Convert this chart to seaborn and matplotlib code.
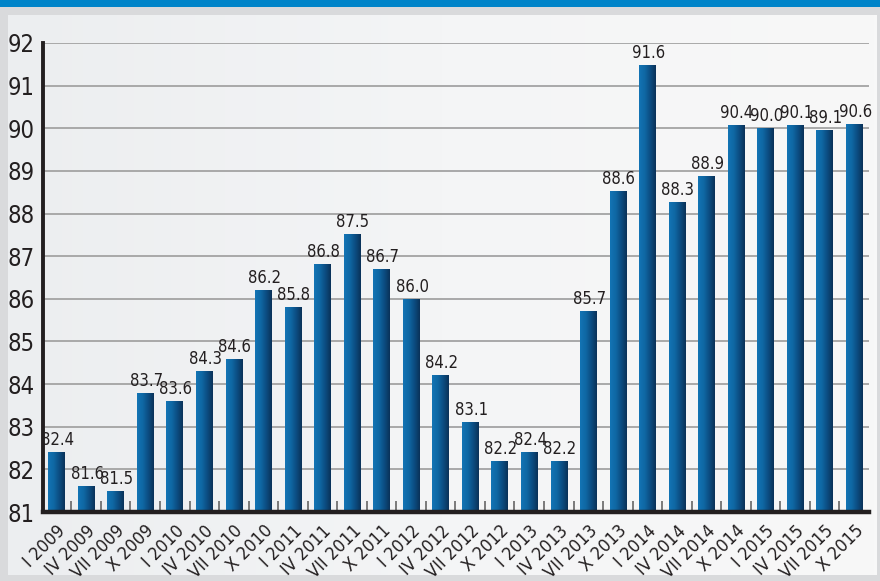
import numpy as np
import pandas as pd
import matplotlib
matplotlib.use("Agg")
import matplotlib.pyplot as plt
import seaborn as sns
from matplotlib.colors import LinearSegmentedColormap
from matplotlib.patches import Rectangle

categories = ["I 2009", "IV 2009", "VII 2009", "X 2009", "I 2010", "IV 2010", "VII 2010",
              "X 2010", "I 2011", "IV 2011", "VII 2011", "X 2011", "I 2012", "IV 2012",
              "VII 2012", "X 2012", "I 2013", "IV 2013", "VII 2013", "X 2013", "I 2014",
              "IV 2014", "VII 2014", "X 2014", "I 2015", "IV 2015", "VII 2015", "X 2015"]
value_labels = ["82.4", "81.6", "81.5", "83.7", "83.6", "84.3", "84.6", "86.2", "85.8",
                "86.8", "87.5", "86.7", "86.0", "84.2", "83.1", "82.2", "82.4", "82.2",
                "85.7", "88.6", "91.6", "88.3", "88.9", "90.4", "90.0", "90.1", "89.1", "90.6"]
bar_heights = [82.41, 81.6, 81.49, 83.79, 83.61, 84.31, 84.58, 86.2, 85.81, 86.81, 87.51,
               86.71, 86.0, 84.21, 83.11, 82.2, 82.41, 82.2, 85.71, 88.54, 91.49, 88.28,
               88.89, 90.07, 90.0, 90.07, 89.95, 90.09]
y_ticks = [81, 82, 83, 84, 85, 86, 87, 88, 89, 90, 91, 92]

df = pd.DataFrame({"period": categories, "value": bar_heights})

sns.set_theme(style="white")
plt.rcParams["font.family"] = ["DejaVu Sans"]
plt.rcParams["font.stretch"] = "condensed"

W, H = 880, 581
fig = plt.figure(figsize=(W / 100, H / 100), dpi=100)
fig.patch.set_facecolor("#d9dadc")

# background panel and top strip
bg = fig.add_axes([0, 0, 1, 1], zorder=-5)
bg.set_xlim(0, W)
bg.set_ylim(H, 0)
bg.axis("off")
bg.add_patch(Rectangle((0, 0), W, 7, color="#0084c9", lw=0))
grad = np.linspace(0, 1, 256).reshape(1, -1)
panel_cmap = LinearSegmentedColormap.from_list("panel", ["#eceef0", "#f4f5f6", "#f8f8f8"])
bg.imshow(grad, cmap=panel_cmap, extent=(8, 877, 575, 15), aspect="auto")
bg.set_xlim(0, W)
bg.set_ylim(H, 0)

ax = fig.add_axes([43 / W, 1 - 512 / H, (869 - 43) / W, (512 - 43) / H])
ax.patch.set_alpha(0)

sns.barplot(data=df, x="period", y="value", ax=ax, width=0.56, color="#0f68a4",
            saturation=1, zorder=3)

bar_cmap = LinearSegmentedColormap.from_list("bar", ["#1374b5", "#0f68a4", "#0c4d82", "#0a3258"])
bgrad = np.linspace(0, 1, 64).reshape(1, -1)
for p, lab in zip(ax.patches, value_labels):
    x0, w, h = p.get_x(), p.get_width(), p.get_height()
    im = ax.imshow(bgrad, cmap=bar_cmap, extent=(x0, x0 + w, 81, h), aspect="auto",
                   zorder=4, interpolation="bilinear")
    im.set_clip_path(p)
    p.set_alpha(0)
    ax.annotate(lab, (x0 + w / 2, h), xytext=(1, 3), textcoords="offset pixels",
                ha="center", va="bottom", fontsize=12, color="#231f20", zorder=6)

ax.set_xlim(-0.46, 27.5)
ax.set_ylim(81, 92)
ax.set_yticks(y_ticks)
ax.set_yticklabels([str(t) for t in y_ticks], fontsize=17, color="#231f20")
for t in y_ticks[1:]:
    ax.axhline(t, color="#a3a3a3", lw=1.3, zorder=1)

ax.set_xlabel("")
ax.set_ylabel("")
ax.set_xticks(range(len(categories)))
ax.set_xticklabels(categories, rotation=45, ha="right", rotation_mode="anchor",
                   fontsize=13, color="#231f20")
ax.set_xticks(np.arange(0.5, len(categories) - 1, 1.0), minor=True)
ax.tick_params(axis="x", which="major", length=0, pad=7)
ax.tick_params(axis="x", which="minor", direction="in", length=8, width=1.2,
               color="#666666", bottom=True)
ax.tick_params(axis="y", length=0, pad=6)

for s in ["top", "right"]:
    ax.spines[s].set_visible(False)
ax.spines["left"].set_color("#231f20")
ax.spines["left"].set_linewidth(2.8)
ax.spines["bottom"].set_color("#231f20")
ax.spines["bottom"].set_linewidth(3.2)
ax.spines["bottom"].set_zorder(7)
ax.spines["left"].set_zorder(7)

fig.savefig("out.png", dpi=100, facecolor=fig.get_facecolor())
